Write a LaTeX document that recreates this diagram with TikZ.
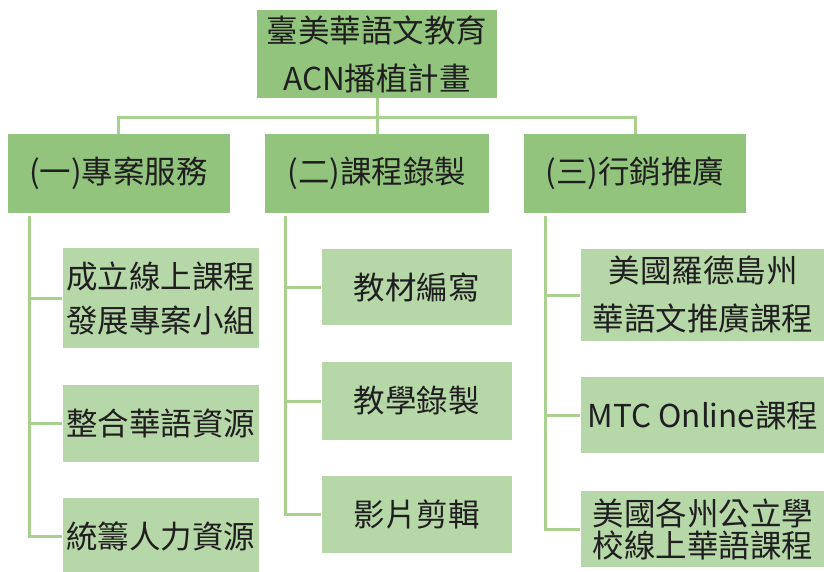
\documentclass[tikz,border=0pt]{standalone}
\usepackage{fontspec}
\setmainfont{Noto Sans CJK TC}
\usetikzlibrary{positioning}

\definecolor{headgreen}{HTML}{93C47D}
\definecolor{itemgreen}{HTML}{B6D7A8}
\definecolor{linkgreen}{HTML}{A9D08E}

\begin{document}
\begin{tikzpicture}[on grid,
  box/.style={rectangle,inner sep=0pt,align=center,text=black!88,
    font=\fontsize{31.5pt}{44pt}\selectfont},
  head/.style={box,fill=headgreen,minimum height=78pt},
  item/.style={box,fill=itemgreen,minimum height=77pt},
  link/.style={draw=linkgreen,line width=3pt}]
  \useasboundingbox (0,0) rectangle (824pt,-572pt);

  % root
  \node[head,minimum width=240pt,minimum height=88pt] (root) at (377pt,-54pt)
    {臺美華語文教育\\[4pt]ACN播植計畫};

  % three branches
  \node[head,minimum width=224pt] (p2) [below=119.5pt of root] {(二)課程錄製};
  \node[head,minimum width=222pt] (p1) [left=258.5pt of p2] {(一)專案服務};
  \node[head,minimum width=222pt] (p3) [right=258pt of p2] {(三)行銷推廣};

  % branch one
  \node[item,minimum width=196pt,minimum height=100pt] (a1) [below right=124.5pt and 42pt of p1]
    {成立線上課程\\發展專案小組};
  \node[item,minimum width=196pt] (a2) [below=125.5pt of a1] {整合華語資源};
  \node[item,minimum width=196pt,minimum height=76pt] (a3) [below=112.5pt of a2] {統籌人力資源};

  % branch two
  \node[item,minimum width=190pt,minimum height=76pt] (b1) [below right=113.5pt and 39.5pt of p2] {教材編寫};
  \node[item,minimum width=190pt,minimum height=78pt] (b2) [below=114pt of b1] {教學錄製};
  \node[item,minimum width=190pt] (b3) [below=113.5pt of b2] {影片剪輯};

  % branch three
  \node[item,minimum width=245pt,minimum height=92pt] (c1) [below right=121.5pt and 68pt of p3]
    {美國羅德島州\\[4pt]華語文推廣課程};
  \node[item,minimum width=245pt,minimum height=76pt] (c2) [below=120pt of c1] {MTC Online課程};
  \node[item,minimum width=245pt,minimum height=76pt] (c3) [below=114pt of c2]
    {美國各州公立學\\[-12pt]校線上華語課程};

  % root to branches
  \coordinate (mid) at ([yshift=-19pt]root.south);
  \draw[link] (root.south) -- (p2.north);
  \draw[link] (p1.north) |- (mid) -| (p3.north);

  % trunks
  \coordinate (t1) at ([xshift=22pt,yshift=-3pt]p1.south west);
  \coordinate (t2) at ([xshift=21pt,yshift=-3pt]p2.south west);
  \coordinate (t3) at ([xshift=22pt,yshift=-3pt]p3.south west);
  \draw[link] (t1) |- (a3.west);
  \draw[link] (t1 |- a1.west) -- (a1.west);
  \draw[link] (t1 |- a2.west) -- (a2.west);
  \draw[link] (t2) |- (b3.west);
  \draw[link] (t2 |- b1.west) -- (b1.west);
  \draw[link] (t2 |- b2.west) -- (b2.west);
  \draw[link] (t3) |- (c3.west);
  \draw[link] (t3 |- c1.west) -- (c1.west);
  \draw[link] (t3 |- c2.west) -- (c2.west);
\end{tikzpicture}
\end{document}
